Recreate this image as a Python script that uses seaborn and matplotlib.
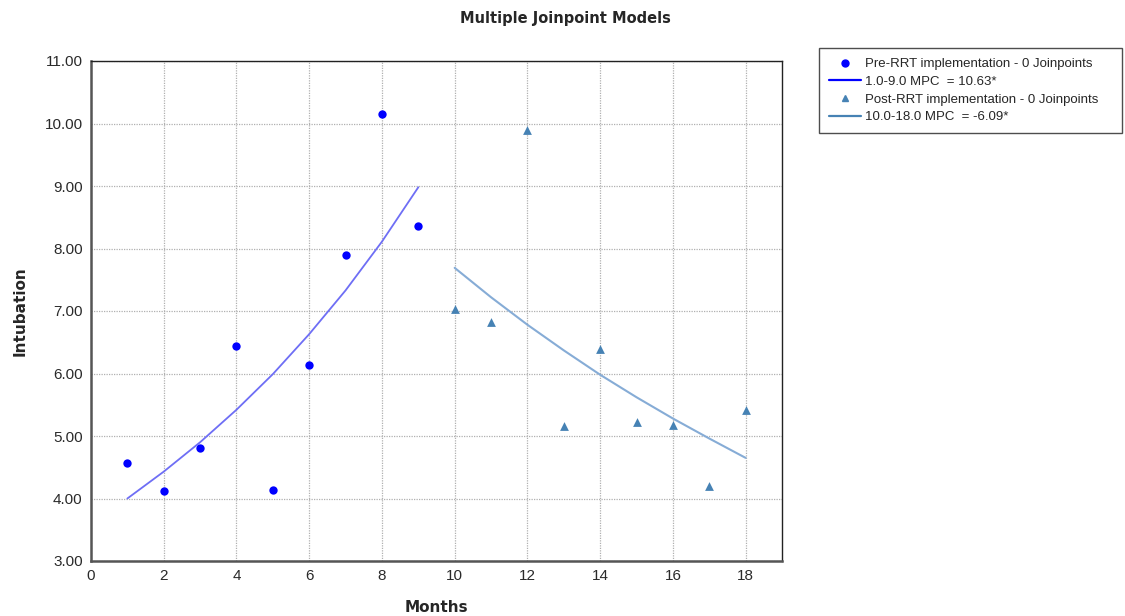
import matplotlib
matplotlib.use("Agg")
import matplotlib.pyplot as plt
import seaborn as sns
import pandas as pd
from matplotlib.lines import Line2D

# ---- data ----
pre_months = [1, 2, 3, 4, 5, 6, 7, 8, 9]
pre_obs = [4.57, 4.12, 4.81, 6.44, 4.14, 6.14, 7.90, 10.15, 8.36]
pre_fit = [4.00, 4.43, 4.90, 5.42, 5.99, 6.63, 7.33, 8.11, 8.98]

post_months = [10, 11, 12, 13, 14, 15, 16, 17, 18]
post_obs = [7.04, 6.82, 9.89, 5.16, 6.39, 5.23, 5.17, 4.20, 5.41]
post_fit = [7.69, 7.22, 6.78, 6.37, 5.98, 5.62, 5.28, 4.96, 4.65]

x_ticks = [0, 2, 4, 6, 8, 10, 12, 14, 16, 18]
y_ticks = [3, 4, 5, 6, 7, 8, 9, 10, 11]

legend_labels = [
    "Pre-RRT implementation - 0 Joinpoints",
    "1.0-9.0 MPC  = 10.63*",
    "Post-RRT implementation - 0 Joinpoints",
    "10.0-18.0 MPC  = -6.09*",
]

pre_df = pd.DataFrame({"Months": pre_months, "obs": pre_obs, "fit": pre_fit})
post_df = pd.DataFrame({"Months": post_months, "obs": post_obs, "fit": post_fit})

sns.set_style("white")
plt.rcParams["font.family"] = ["Liberation Sans", "DejaVu Sans"]

fig = plt.figure(figsize=(11.25, 6.16), dpi=100)
ax = fig.add_axes([91 / 1125, 1 - 561 / 616, (782 - 91) / 1125, (561 - 61) / 616])

PRE_C = "#0000FF"
PRE_LINE = "#6e6ef5"
POST_C = "#4682B4"
POST_LINE = "#86acd6"

sns.lineplot(data=pre_df, x="Months", y="fit", ax=ax, color=PRE_LINE, lw=1.3, legend=False)
sns.lineplot(data=post_df, x="Months", y="fit", ax=ax, color=POST_LINE, lw=1.5, legend=False)
sns.scatterplot(data=pre_df, x="Months", y="obs", ax=ax, color=PRE_C, s=36,
                marker="o", edgecolor=PRE_C, linewidth=0, legend=False, zorder=3)
sns.scatterplot(data=post_df, x="Months", y="obs", ax=ax, color=POST_C, s=40,
                marker="^", edgecolor=POST_C, linewidth=0, legend=False, zorder=3)

ax.set_xlim(0, 19)
ax.set_ylim(3, 11)
ax.set_xticks(x_ticks)
ax.set_yticks(y_ticks)
ax.set_yticklabels([f"{v:.2f}" for v in y_ticks])
ax.tick_params(axis="both", length=0, labelsize=11, colors="#2a2a2a", pad=6)
ax.grid(True, color="#b0b0b0", linestyle=(0, (1, 1)), linewidth=0.9)
for side in ["top", "right"]:
    ax.spines[side].set_color("#222222")
    ax.spines[side].set_linewidth(1.0)
for side in ["left", "bottom"]:
    ax.spines[side].set_color("#555555")
    ax.spines[side].set_linewidth(1.8)

ax.set_xlabel("Months", fontsize=11, fontweight="bold", family="DejaVu Sans", labelpad=12)
ax.set_ylabel("Intubation", fontsize=11, fontweight="bold", family="DejaVu Sans", labelpad=12)
fig.text(565 / 1125, 1 - 18 / 616, "Multiple Joinpoint Models", ha="center", va="center",
         fontsize=10.5, fontweight="bold", family="DejaVu Sans")

handles = [
    Line2D([], [], linestyle="none", marker="o", color=PRE_C, markersize=5),
    Line2D([], [], color=PRE_C, lw=1.6),
    Line2D([], [], linestyle="none", marker="^", color=POST_C, markersize=5),
    Line2D([], [], color=POST_C, lw=1.6),
]
leg = fig.legend(handles, legend_labels, loc="upper left",
                 bbox_to_anchor=(819 / 1125, 1 - 132 / 616, 303 / 1125, 84 / 616),
                 mode="expand", fontsize=9.5,
                 frameon=True, fancybox=False, edgecolor="#222222",
                 handlelength=2.4, handletextpad=0.3, labelspacing=0.42,
                 borderpad=0.75, borderaxespad=0)
leg.get_frame().set_linewidth(1.0)

fig.savefig("out.png", dpi=100)
